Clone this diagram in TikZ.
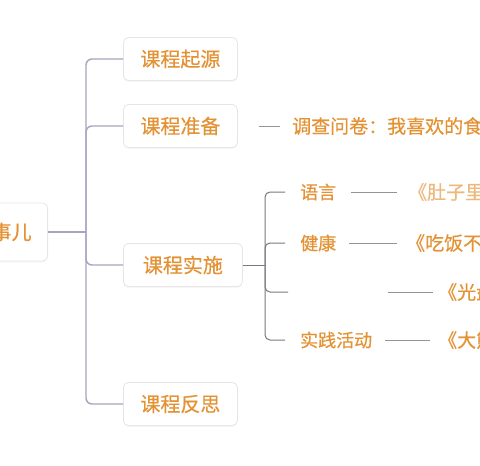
\documentclass[tikz,border=0pt]{standalone}
\usepackage{fontspec}
\usetikzlibrary{shadows}
\setmainfont{Noto Sans CJK SC}[FakeBold=0.5]
\definecolor{txtorange}{RGB}{228,146,52}
\definecolor{trunkgray}{RGB}{165,165,192}
\definecolor{subgray}{RGB}{120,120,128}
\definecolor{boxline}{RGB}{230,230,234}
\tikzset{
  topic/.style={draw=boxline, fill=white, rounded corners=5pt, line width=0.8pt,
    drop shadow={opacity=0.06, shadow xshift=0pt, shadow yshift=-1.5pt},
    text=txtorange, font=\fontsize{20}{22}\selectfont, minimum height=43pt, inner xsep=13pt},
  leaf/.style={text=txtorange, anchor=west, inner sep=0pt, font=\fontsize{18}{20}\selectfont},
  book/.style={leaf, font=\fontsize{19}{21}\selectfont},
  trunk/.style={draw=trunkgray, line width=1.4pt, rounded corners=6pt},
  twig/.style={draw=subgray, line width=1pt, rounded corners=5pt},
  connline/.style={draw=subgray!80, line width=1pt}
}
\begin{document}
\begin{tikzpicture}[x=1pt,y=-1pt]
    \useasboundingbox (0,0) rectangle (480,466);
    \fill[white] (0,0) rectangle (480,466);
    \clip (0,0) rectangle (480,466);

    % root and first level
    \node[topic, anchor=east, minimum width=72pt, minimum height=58pt] (root) at (48,232) {事儿};
    \node[topic, anchor=west, minimum width=114pt] (origin) at (123,59) {课程起源};
    \node[topic, anchor=west, minimum width=114pt] (prep) at (123,126) {课程准备};
    \node[topic, anchor=west, minimum width=119pt] (impl) at (123,265) {课程实施};
    \node[topic, anchor=west, minimum width=114pt] (refl) at (123,404) {课程反思};

    \coordinate (hub) at (86,232);
    \draw[trunk] (root.east) -- (hub);
    \draw[trunk] (hub) |- (origin.west);
    \draw[trunk] (hub) |- (prep.west);
    \draw[trunk] (hub) |- (impl.west);
    \draw[trunk] (hub) |- (refl.west);

    % survey
    \node[book] (survey) at (292,126) {调查问卷：我喜欢的食};
    \draw[connline] ([xshift=21pt]prep.east) -- ([xshift=-12pt]survey.west);

    % second level
    \coordinate (subhub) at (265,265);
    \draw[twig] (impl.east) -- (subhub);
    \node[leaf] (lang) at (300,192) {语言};
    \node[leaf] (health) at (300,243) {健康};
    \coordinate (blank) at (288,292);
    \node[leaf] (prac) at (300,340) {实践活动};
    \draw[twig] (subhub) |- ([xshift=-15pt]lang.west);
    \draw[twig] (subhub) |- ([xshift=-15pt]health.west);
    \draw[twig] (subhub) |- (blank);
    \draw[twig] (subhub) |- ([xshift=-15pt]prac.west);

    % books
    \node[book, text=txtorange!65] (bookA) at (408,192) {《肚子里};
    \node[book] (bookB) at (406,243) {《吃饭不};
    \node[book] (bookC) at (438,292) {《光盘};
    \node[book] (bookD) at (438,340) {《大熊};
    \draw[connline] ([xshift=15pt]lang.east) -- ([xshift=-11pt]bookA.west);
    \draw[connline] ([xshift=13pt]health.east) -- ([xshift=-9pt]bookB.west);
    \draw[connline] (388,292) -- ([xshift=-5pt]bookC.west);
    \draw[connline] ([xshift=13pt]prac.east) -- ([xshift=-8pt]bookD.west);
\end{tikzpicture}
\end{document}
